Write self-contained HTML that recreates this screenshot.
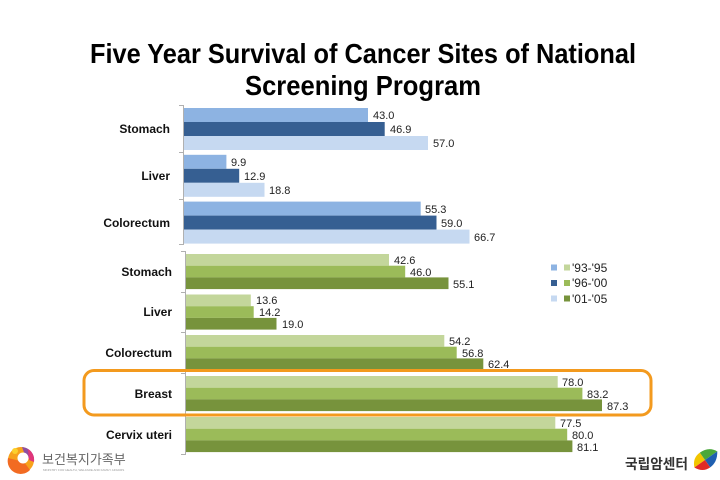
<!DOCTYPE html>
<html><head><meta charset="utf-8"><style>
html,body{margin:0;padding:0;background:#fff;}
svg{display:block;}
text{font-family:"Liberation Sans","Noto Sans CJK KR",sans-serif;}
</style></head><body>
<svg width="720" height="480" viewBox="0 0 720 480" xmlns="http://www.w3.org/2000/svg">
<rect width="720" height="480" fill="#fff"/>
<!-- Title -->
<text x="363" y="63" font-size="28" font-weight="bold" text-anchor="middle" textLength="546" lengthAdjust="spacingAndGlyphs" fill="#000">Five Year Survival of Cancer Sites of National</text>
<text x="363" y="95" font-size="28" font-weight="bold" text-anchor="middle" textLength="236" lengthAdjust="spacingAndGlyphs" fill="#000">Screening Program</text>

<!-- Top chart axis -->
<g stroke="#b0b0b0" stroke-width="1">
<line x1="183.5" y1="105" x2="183.5" y2="245"/>
<line x1="179" y1="105.5" x2="183.5" y2="105.5"/>
<line x1="179" y1="152.5" x2="183.5" y2="152.5"/>
<line x1="179" y1="199.5" x2="183.5" y2="199.5"/>
<line x1="179" y1="244.5" x2="183.5" y2="244.5"/>
</g>
<!-- Top bars -->
<g>
<rect x="184" y="108" width="184" height="14" fill="#8db3e2"/>
<rect x="184" y="122" width="200.7" height="14" fill="#365f92"/>
<rect x="184" y="136" width="244" height="14" fill="#c6d9f1"/>
<rect x="184" y="154.8" width="42.4" height="14" fill="#8db3e2"/>
<rect x="184" y="168.8" width="55.2" height="14" fill="#365f92"/>
<rect x="184" y="182.8" width="80.5" height="14" fill="#c6d9f1"/>
<rect x="184" y="201.6" width="236.7" height="14" fill="#8db3e2"/>
<rect x="184" y="215.6" width="252.5" height="14" fill="#365f92"/>
<rect x="184" y="229.6" width="285.5" height="14" fill="#c6d9f1"/>
</g>
<g font-size="11" fill="#222">
<text x="373" y="119">43.0</text>
<text x="390" y="133">46.9</text>
<text x="433" y="147">57.0</text>
<text x="231" y="166">9.9</text>
<text x="244" y="180">12.9</text>
<text x="269" y="194">18.8</text>
<text x="425" y="213">55.3</text>
<text x="441" y="227">59.0</text>
<text x="474" y="241">66.7</text>
</g>
<g font-size="12" font-weight="bold" fill="#111" text-anchor="end">
<text x="170" y="133">Stomach</text>
<text x="170" y="180">Liver</text>
<text x="170" y="227">Colorectum</text>
</g>

<!-- Bottom chart axis -->
<g stroke="#b0b0b0" stroke-width="1">
<line x1="185.5" y1="251" x2="185.5" y2="455"/>
<line x1="181" y1="251.5" x2="185.5" y2="251.5"/>
<line x1="181" y1="292.5" x2="185.5" y2="292.5"/>
<line x1="181" y1="332.5" x2="185.5" y2="332.5"/>
<line x1="181" y1="373.5" x2="185.5" y2="373.5"/>
<line x1="181" y1="414.5" x2="185.5" y2="414.5"/>
<line x1="181" y1="454.5" x2="185.5" y2="454.5"/>
</g>
<g>
<rect x="186" y="254" width="203" height="11.7" fill="#c3d69b"/>
<rect x="186" y="265.7" width="219.2" height="11.7" fill="#9bbb59"/>
<rect x="186" y="277.4" width="262.5" height="11.7" fill="#77933c"/>
<rect x="186" y="294.5" width="64.8" height="11.7" fill="#c3d69b"/>
<rect x="186" y="306.2" width="67.7" height="11.7" fill="#9bbb59"/>
<rect x="186" y="317.9" width="90.5" height="11.7" fill="#77933c"/>
<rect x="186" y="335" width="258.3" height="11.7" fill="#c3d69b"/>
<rect x="186" y="346.7" width="270.7" height="11.7" fill="#9bbb59"/>
<rect x="186" y="358.4" width="297.3" height="11.7" fill="#77933c"/>
<rect x="186" y="376" width="371.7" height="11.7" fill="#c3d69b"/>
<rect x="186" y="387.7" width="396.4" height="11.7" fill="#9bbb59"/>
<rect x="186" y="399.4" width="416" height="11.7" fill="#77933c"/>
<rect x="186" y="417" width="369.3" height="11.7" fill="#c3d69b"/>
<rect x="186" y="428.7" width="381.2" height="11.7" fill="#9bbb59"/>
<rect x="186" y="440.4" width="386.4" height="11.7" fill="#77933c"/>
</g>
<g font-size="11" fill="#222">
<text x="394" y="264">42.6</text>
<text x="410" y="276">46.0</text>
<text x="453" y="288">55.1</text>
<text x="256" y="304">13.6</text>
<text x="259" y="316">14.2</text>
<text x="282" y="328">19.0</text>
<text x="449" y="345">54.2</text>
<text x="462" y="357">56.8</text>
<text x="488" y="368">62.4</text>
<text x="562" y="386">78.0</text>
<text x="587" y="398">83.2</text>
<text x="607" y="410">87.3</text>
<text x="560" y="427">77.5</text>
<text x="572" y="439">80.0</text>
<text x="577" y="451">81.1</text>
</g>
<g font-size="12" font-weight="bold" fill="#111" text-anchor="end">
<text x="172" y="276">Stomach</text>
<text x="172" y="316">Liver</text>
<text x="172" y="357">Colorectum</text>
<text x="172" y="398">Breast</text>
<text x="172" y="439">Cervix uteri</text>
</g>

<!-- Orange highlight box -->
<rect x="84" y="370.5" width="567" height="44.5" rx="10" ry="10" fill="none" stroke="#f39a1e" stroke-width="3"/>

<!-- Legend -->
<g>
<rect x="551" y="264.5" width="6" height="6" fill="#8db3e2"/>
<rect x="564" y="264.5" width="6" height="6" fill="#c3d69b"/>
<rect x="551" y="280" width="6" height="6" fill="#365f92"/>
<rect x="564" y="280" width="6" height="6" fill="#9bbb59"/>
<rect x="551" y="295.5" width="6" height="6" fill="#c6d9f1"/>
<rect x="564" y="295.5" width="6" height="6" fill="#77933c"/>
</g>
<g font-size="12" fill="#222">
<text x="572" y="272">'93-'95</text>
<text x="572" y="287">'96-'00</text>
<text x="572" y="303">'01-'05</text>
</g>

<!-- Left logo -->
<g>
<circle cx="21" cy="460" r="13" fill="#f7a21b"/>
<path d="M8 458 A13 13 0 0 0 30 470 L24 462 Z" fill="#f26b22"/>
<path d="M22 447 A13 13 0 0 1 34 458 L26 458 Z" fill="#8e4fa0"/>
<path d="M28 449 A13 13 0 0 1 34 462 L29 460 Z" fill="#e0357a"/>
<circle cx="23" cy="458" r="5.5" fill="#fff"/>
<circle cx="15" cy="451" r="3" fill="#fbd02c"/>
</g>
<text x="42" y="464" font-size="13" fill="#666">보건복지가족부</text>
<text x="43" y="471" font-size="3" fill="#999">MINISTRY FOR HEALTH, WELFARE AND FAMILY AFFAIRS</text>

<!-- Right logo -->
<text x="625" y="469" font-size="14" font-weight="bold" fill="#333" textLength="63" lengthAdjust="spacingAndGlyphs">국립암센터</text>
<g transform="translate(705,460) rotate(-35)">
<path d="M-13 0 Q-9 -9 0 -9 L0 0 Z" fill="#f2c500"/>
<path d="M0 -9 Q11 -9 15 0 L0 0 Z" fill="#4aa83a"/>
<path d="M0 0 L15 0 Q9 9 0 9 Z" fill="#1f5fb0"/>
<path d="M0 0 L0 9 Q-9 9 -13 0 Z" fill="#e22a26"/>
</g>
</svg>
</body></html>
